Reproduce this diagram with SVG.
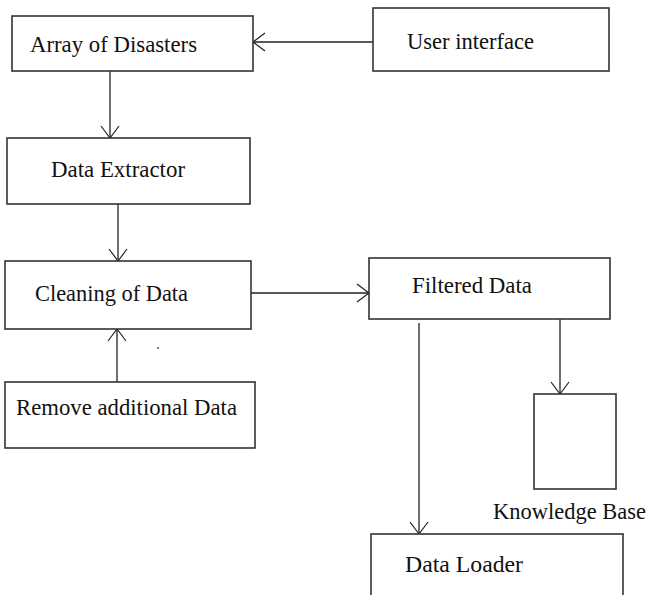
<svg xmlns="http://www.w3.org/2000/svg" width="654" height="595" viewBox="0 0 654 595">
<style>
.box{fill:#fff;stroke:#333;stroke-width:1.6}
.lbl{font-family:"Liberation Serif","Times New Roman",serif;font-size:24px;fill:#111}
.ln{fill:none;stroke:#222;stroke-width:1.3}
</style>
<defs>
<marker id="ah" markerUnits="userSpaceOnUse" viewBox="-14 -10 16 20" refX="0" refY="0" markerWidth="16" markerHeight="20" orient="auto" overflow="visible">
<path d="M-12,-9 L0,0 L-12,9" fill="none" stroke="#222" stroke-width="1.2"/>
</marker>
</defs>
<rect width="654" height="595" fill="#fff"/>
<g id="connectors">
<line class="ln" x1="373" y1="42" x2="253" y2="42" marker-end="url(#ah)"/>
<line class="ln" x1="110" y1="71" x2="110" y2="138" marker-end="url(#ah)"/>
<line class="ln" x1="118" y1="204" x2="118" y2="261" marker-end="url(#ah)"/>
<line class="ln" x1="117" y1="382" x2="117" y2="329" marker-end="url(#ah)"/>
<line class="ln" x1="251" y1="293" x2="369" y2="293" marker-end="url(#ah)"/>
<line class="ln" x1="560" y1="318" x2="560" y2="394" marker-end="url(#ah)"/>
<line class="ln" x1="419" y1="323" x2="419" y2="534" marker-end="url(#ah)"/>
</g>
<g id="array-of-disasters">
<rect class="box" x="12" y="16" width="241" height="55"/>
<text class="lbl" x="30" y="52" textLength="167" lengthAdjust="spacingAndGlyphs">Array of Disasters</text>
</g>
<g id="user-interface">
<rect class="box" x="373" y="8" width="236" height="63"/>
<text class="lbl" x="407" y="49" textLength="127" lengthAdjust="spacingAndGlyphs">User interface</text>
</g>
<g id="data-extractor">
<rect class="box" x="7" y="138" width="243" height="66"/>
<text class="lbl" x="51" y="177" textLength="134" lengthAdjust="spacingAndGlyphs">Data Extractor</text>
</g>
<g id="cleaning-of-data">
<rect class="box" x="5" y="261" width="246" height="68"/>
<text class="lbl" x="35" y="301" textLength="153" lengthAdjust="spacingAndGlyphs">Cleaning of Data</text>
</g>
<g id="remove-additional-data">
<rect class="box" x="5" y="382" width="250" height="66"/>
<text class="lbl" x="16" y="415" textLength="221" lengthAdjust="spacingAndGlyphs">Remove additional Data</text>
</g>
<circle cx="158" cy="348" r="0.9" fill="#444"/>
<g id="filtered-data">
<rect class="box" x="369" y="258" width="241" height="61"/>
<text class="lbl" x="412" y="293" textLength="120" lengthAdjust="spacingAndGlyphs">Filtered Data</text>
</g>
<g id="knowledge-base">
<rect class="box" x="534" y="394" width="82" height="95"/>
<text class="lbl" x="493" y="519" style="font-size:22.5px" textLength="153" lengthAdjust="spacingAndGlyphs">Knowledge Base</text>
</g>
<g id="data-loader">
<rect class="box" x="371" y="534" width="252" height="70"/>
<text class="lbl" x="405" y="572" textLength="118" lengthAdjust="spacingAndGlyphs">Data Loader</text>
</g>
</svg>
